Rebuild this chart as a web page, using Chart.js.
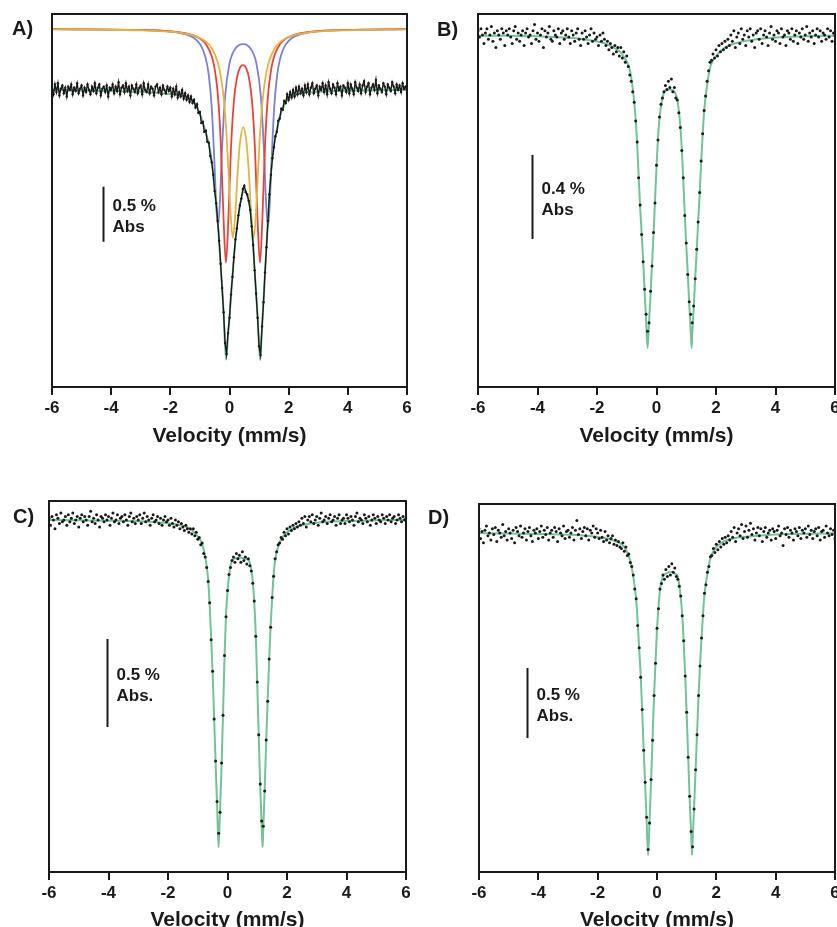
<!DOCTYPE html>
<html>
<head>
<meta charset="utf-8">
<script src="https://cdn.jsdelivr.net/npm/chart.js@4.4.0/dist/chart.umd.min.js"></script>
<style>
  html, body { margin: 0; padding: 0; background: #fff; width: 837px; height: 927px; overflow: hidden; position: relative; }
  canvas { position: absolute; }
</style>
</head>
<body>
<canvas id="chartA" style="left:0;top:0" width="420" height="449"></canvas>
<canvas id="chartB" style="left:420px;top:0" width="430" height="449"></canvas>
<canvas id="chartC" style="left:0;top:460px" width="420" height="473"></canvas>
<canvas id="chartD" style="left:420px;top:460px" width="430" height="473"></canvas>
<script>
// channel grid of the folded spectra (mm/s)
const CH_START = -6, CH_STEP = 0.05;
const xTicks = [-6, -4, -2, 0, 2, 4, 6];

// ---- panel A : measured spectrum (% absorption, baseline 0) ----
const dataA = [
  0.03,-0.04,0.05,-0.02,0.06,-0.05,0.01,0.04,-0.03,0.02,
  -0.06,0.03,0.00,0.05,-0.04,0.02,-0.01,0.06,-0.03,0.01,
  0.04,-0.05,0.02,-0.02,0.05,0.00,-0.04,0.03,-0.01,0.06,
  -0.03,0.02,0.05,-0.05,0.01,0.03,-0.02,0.04,-0.06,0.02,
  0.00,0.05,-0.03,0.03,-0.01,0.07,-0.04,0.02,0.04,-0.02,
  0.06,-0.01,0.03,-0.05,0.04,0.01,-0.02,0.05,-0.03,0.02,
  0.04,-0.04,0.06,0.00,-0.02,0.05,-0.03,0.03,0.01,-0.05,
  0.03,0.05,-0.02,0.02,-0.04,0.04,0.00,-0.03,0.03,-0.01,
  0.02,-0.06,0.01,-0.04,0.03,-0.07,-0.02,-0.06,0.00,-0.08,-0.03,-0.09,-0.05,-0.11,-0.06,-0.12,
  -0.09,-0.16,-0.13,-0.21,-0.20,
  -0.30,-0.29,-0.38,-0.37,-0.47,
  -0.48,-0.60,-0.66,-0.77,-0.92,
  -1.03,-1.19,-1.37,-1.58,-1.80,
  -2.02,-2.30,-2.40,-2.21,-2.07,
  -1.86,-1.70,-1.52,-1.36,-1.26,
  -1.14,-1.05,-0.99,-0.90,-0.87,
  -0.93,-0.95,-1.01,-1.09,-1.24,
  -1.41,-1.64,-1.85,-2.07,-2.33,
  -2.41,-2.15,-1.93,-1.66,-1.43,
  -1.19,-0.95,-0.77,-0.62,-0.52,
  -0.42,-0.38,-0.28,-0.26,-0.17,
  -0.18,-0.10,-0.12,-0.04,-0.09,
  -0.02,-0.07,0.00,-0.06,0.02,
  -0.04,0.03,-0.03,
  0.01,-0.05,0.04,-0.02,0.05,-0.04,0.02,0.06,-0.03,0.01,
  0.04,-0.05,0.03,0.00,0.06,-0.02,0.04,-0.04,0.07,0.01,
  -0.03,0.05,0.02,-0.04,0.06,0.00,0.03,-0.05,0.04,0.02,
  -0.02,0.06,-0.03,0.05,0.01,-0.04,0.07,0.02,-0.01,0.05,
  -0.03,0.04,0.08,-0.02,0.03,0.06,-0.04,0.02,0.05,0.00,
  0.09,-0.03,0.04,0.01,-0.02,0.06,0.03,-0.04,0.05,0.02,
  -0.01,0.07,0.03,-0.03,0.05,0.00,0.04,-0.02,0.06,0.01,0.03,-0.02
];
// total fit of panel A
const fitVelA = [-6,-5,-4,-3,-2.5,-2,-1.8,-1.6,-1.4,-1.2,-1.0,-0.9,-0.8,-0.7,-0.6,-0.5,-0.4,-0.3,-0.2,-0.12,
  -0.05,0,0.1,0.2,0.3,0.4,0.52,0.6,0.7,0.8,0.9,0.95,1.03,1.1,1.2,1.3,1.4,1.5,1.6,1.7,1.8,2.0,2.2,2.5,3,4,5,6];
const fitA = [0,-0.005,-0.01,-0.017,-0.025,-0.037,-0.044,-0.054,-0.069,-0.11,-0.22,-0.30,-0.39,-0.49,-0.64,-0.91,-1.18,-1.59,-2.01,-2.45,
  -2.23,-2.06,-1.69,-1.37,-1.15,-0.98,-0.91,-0.96,-1.08,-1.42,-1.86,-2.06,-2.45,-2.16,-1.67,-1.18,-0.76,-0.51,-0.37,-0.245,
  -0.17,-0.074,-0.049,-0.029,-0.017,-0.007,-0.002,0];
// the three doublet components of panel A (drawn offset above the data)
const blueVel = [-6,-3,-2,-1.5,-1.2,-1.0,-0.9,-0.8,-0.7,-0.6,-0.5,-0.45,-0.39,-0.33,-0.25,-0.15,0,0.1,0.2,0.3,0.455,
  0.61,0.71,0.81,0.91,1.06,1.16,1.24,1.30,1.36,1.41,1.51,1.61,1.71,1.81,1.91,2.11,2.41,2.91,3.91,6];
const blueA = [0.552,0.545,0.531,0.507,0.472,0.418,0.365,0.283,0.135,-0.162,-0.715,-1.04,-1.245,-1.047,-0.527,-0.063,0.24,0.329,0.377,0.404,0.416,
  0.404,0.377,0.329,0.24,-0.063,-0.527,-1.047,-1.245,-1.04,-0.715,-0.162,0.135,0.283,0.365,0.418,0.472,0.507,0.531,0.545,0.552];
const redVel = [-6,-3,-2,-1.5,-1.2,-1.0,-0.8,-0.6,-0.5,-0.4,-0.3,-0.2,-0.12,-0.04,0.05,0.15,0.25,0.35,0.455,
  0.56,0.66,0.76,0.86,0.95,1.03,1.11,1.21,1.31,1.41,1.51,1.71,1.91,2.11,2.41,2.91,3.91,6];
const redA = [0.552,0.544,0.532,0.515,0.494,0.468,0.418,0.306,0.189,-0.025,-0.447,-1.178,-1.57,-1.19,-0.533,-0.098,0.108,0.2,0.226,
  0.2,0.108,-0.098,-0.533,-1.19,-1.57,-1.178,-0.447,-0.025,0.189,0.306,0.418,0.468,0.494,0.515,0.532,0.544,0.552];
const yellowVel = [-6,-3,-2,-1.5,-1.2,-1.0,-0.8,-0.6,-0.4,-0.3,-0.2,-0.1,-0.03,0.03,0.11,0.19,0.27,0.35,0.465,
  0.58,0.66,0.74,0.82,0.90,0.96,1.03,1.13,1.23,1.33,1.53,1.73,1.93,2.13,2.43,2.93,3.93,6];
const yellowA = [0.551,0.542,0.529,0.512,0.493,0.472,0.439,0.379,0.254,0.135,-0.062,-0.404,-0.757,-1.095,-1.345,-1.153,-0.773,-0.49,-0.34,
  -0.49,-0.773,-1.153,-1.345,-1.095,-0.757,-0.404,-0.062,0.135,0.254,0.379,0.439,0.472,0.493,0.512,0.529,0.542,0.551];

// ---- fit grid shared by panels B, C, D ----
const fitVel = [-6,-5,-4,-3,-2.5,-2,-1.8,-1.6,-1.4,-1.2,-1.1,-1.0,-0.9,-0.8,-0.7,-0.65,-0.6,-0.55,-0.5,-0.45,
  -0.4,-0.35,-0.3,-0.25,-0.2,-0.15,-0.1,-0.05,0,0.05,0.1,0.2,0.3,0.44,0.6,0.7,0.75,0.8,0.85,0.9,
  0.95,1.0,1.05,1.1,1.15,1.18,1.2,1.25,1.3,1.35,1.4,1.45,1.5,1.55,1.6,1.7,1.8,1.9,2.0,2.2,2.4,2.6,3,4,5,6];

// ---- panel B ----
const dataB = [
  0.02,-0.01,0.03,0.00,-0.04,0.01,0.03,-0.02,0.00,0.04,
  -0.03,0.01,-0.06,0.02,0.00,-0.02,0.03,0.01,-0.05,0.02,
  0.00,0.03,-0.01,-0.04,0.02,0.04,-0.02,0.01,-0.03,0.00,
  0.02,-0.05,0.01,0.03,-0.01,0.00,-0.04,0.02,0.05,-0.02,
  0.01,-0.03,0.00,0.03,-0.06,0.02,-0.01,0.01,0.04,-0.02,
  -0.03,0.02,0.00,-0.01,0.03,-0.04,0.01,0.02,-0.02,0.00,
  0.03,-0.01,-0.04,0.02,0.00,-0.03,0.01,0.03,-0.02,-0.05,
  0.01,-0.02,0.02,-0.01,-0.04,0.00,0.03,-0.03,0.01,-0.02,
  -0.01,-0.05,0.00,-0.03,0.01,-0.02,-0.05,-0.03,-0.07,-0.04,-0.06,-0.09,-0.05,-0.08,-0.06,-0.10,
  -0.06,-0.11,-0.08,-0.13,-0.10,
  -0.15,-0.19,-0.22,-0.27,-0.32,
  -0.41,-0.51,-0.68,-0.81,-0.95,
  -1.08,-1.21,-1.33,-1.41,-1.37,
  -1.22,-1.10,-0.94,-0.80,-0.62,
  -0.50,-0.39,-0.33,-0.30,-0.27,
  -0.24,-0.26,-0.22,-0.25,-0.21,
  -0.27,-0.25,-0.30,-0.31,-0.37,
  -0.44,-0.55,-0.68,-0.86,-0.99,
  -1.14,-1.27,-1.33,-1.37,-1.29,
  -1.16,-1.02,-0.89,-0.75,-0.60,
  -0.47,-0.36,-0.29,-0.22,-0.17,
  -0.13,-0.12,-0.09,-0.11,-0.07,
  -0.10,-0.05,-0.08,-0.04,-0.07,
  -0.03,-0.06,-0.02,
  -0.05,0.00,-0.03,0.02,-0.06,-0.01,0.01,-0.04,0.03,-0.02,
  0.00,-0.05,0.02,-0.01,0.03,-0.03,0.00,-0.06,0.01,0.02,
  -0.02,0.03,-0.04,0.00,0.02,-0.01,-0.05,0.01,0.04,-0.02,
  0.00,-0.03,0.02,0.01,-0.04,0.03,-0.01,0.00,-0.05,0.02,
  0.01,-0.02,0.03,-0.03,0.00,0.02,-0.04,0.01,-0.01,0.03,
  -0.02,0.00,0.04,-0.03,0.01,-0.01,0.02,-0.04,0.00,0.03,
  -0.01,0.02,-0.03,0.01,0.00,-0.02,0.03,-0.01,0.02,-0.03,0.01,0.00
];
const fitB = [-0.003,-0.003,-0.006,-0.013,-0.019,-0.031,-0.037,-0.048,-0.063,-0.083,
  -0.104,-0.127,-0.164,-0.253,-0.40,-0.52,-0.67,-0.82,-0.94,-1.07,
  -1.22,-1.36,-1.49,-1.36,-1.24,-1.09,-0.95,-0.79,-0.63,-0.49,
  -0.40,-0.30,-0.265,-0.26,-0.27,-0.31,-0.36,-0.43,-0.54,-0.69,
  -0.85,-1.00,-1.13,-1.28,-1.41,-1.49,-1.43,-1.30,-1.16,-1.03,
  -0.89,-0.76,-0.61,-0.48,-0.365,-0.24,-0.156,-0.122,-0.10,-0.07,
  -0.052,-0.042,-0.028,-0.012,-0.006,-0.003];

// ---- panel C ----
const dataC = [
  0.01,-0.03,0.02,0.00,-0.05,0.03,0.01,-0.02,0.04,-0.01,
  0.00,0.02,-0.03,0.03,-0.01,0.01,0.04,-0.02,0.00,0.02,
  -0.04,0.01,0.03,-0.01,0.02,0.00,-0.03,0.02,0.05,-0.01,
  0.01,-0.02,0.03,0.00,-0.04,0.02,0.01,-0.01,0.03,0.00,
  0.02,-0.03,0.01,0.04,-0.01,0.00,0.03,-0.02,0.01,0.02,
  -0.01,0.03,0.00,-0.03,0.02,0.04,-0.01,0.01,-0.02,0.02,
  0.00,0.03,-0.02,0.01,0.04,-0.01,0.02,0.00,-0.03,0.01,
  0.03,-0.01,0.00,0.02,-0.02,0.01,-0.03,0.00,0.02,-0.01,
  0.00,-0.03,0.01,-0.02,-0.04,0.00,-0.03,-0.01,-0.05,-0.02,-0.04,-0.06,-0.03,-0.05,-0.07,-0.05,
  -0.08,-0.05,-0.09,-0.07,-0.11,
  -0.10,-0.14,-0.13,-0.19,-0.21,
  -0.27,-0.35,-0.47,-0.68,-0.86,
  -1.13,-1.37,-1.60,-1.78,-1.66,
  -1.38,-1.11,-0.77,-0.55,-0.40,
  -0.31,-0.27,-0.23,-0.21,-0.24,
  -0.19,-0.22,-0.20,-0.24,-0.18,
  -0.23,-0.21,-0.25,-0.22,-0.26,
  -0.29,-0.36,-0.46,-0.66,-0.92,
  -1.22,-1.50,-1.71,-1.74,-1.54,
  -1.25,-1.03,-0.79,-0.61,-0.44,
  -0.32,-0.22,-0.18,-0.14,-0.13,
  -0.10,-0.11,-0.07,-0.09,-0.05,
  -0.08,-0.04,-0.06,-0.03,-0.05,
  -0.02,-0.04,-0.01,
  -0.03,0.01,-0.02,0.02,-0.04,0.00,0.02,-0.01,0.03,-0.02,
  0.00,0.02,-0.03,0.01,0.04,-0.01,0.00,0.02,-0.02,0.01,
  0.03,-0.01,0.00,0.02,-0.03,0.01,0.03,-0.02,0.00,0.01,
  -0.02,0.03,0.01,-0.01,0.02,0.00,-0.03,0.02,0.04,-0.01,
  0.01,0.00,-0.02,0.03,0.01,-0.01,0.02,-0.03,0.00,0.03,
  0.01,-0.02,0.02,0.00,-0.01,0.03,0.01,-0.02,0.02,0.00,
  0.03,-0.01,0.01,0.02,-0.02,0.00,0.03,0.01,-0.01,0.02,0.00,0.01
];
const fitC = [0,-0.002,-0.004,-0.007,-0.011,-0.019,-0.022,-0.028,-0.037,-0.058,
  -0.073,-0.093,-0.117,-0.167,-0.26,-0.34,-0.48,-0.67,-0.87,-1.12,
  -1.38,-1.62,-1.86,-1.64,-1.40,-1.10,-0.78,-0.54,-0.41,-0.32,
  -0.26,-0.223,-0.216,-0.214,-0.218,-0.227,-0.242,-0.28,-0.35,-0.47,
  -0.65,-0.93,-1.23,-1.51,-1.75,-1.86,-1.77,-1.53,-1.26,-1.02,
  -0.80,-0.60,-0.45,-0.31,-0.23,-0.154,-0.112,-0.087,-0.069,-0.047,
  -0.033,-0.026,-0.015,-0.006,-0.002,0];

// ---- panel D ----
const dataD = [
  0.03,-0.04,0.01,-0.07,0.02,0.05,-0.02,0.00,-0.05,0.03,
  -0.01,0.04,-0.06,0.02,0.00,-0.03,0.06,-0.02,0.01,-0.05,
  0.03,0.00,-0.04,0.02,-0.07,0.04,0.01,-0.02,0.05,-0.03,
  0.00,0.03,-0.05,0.01,0.04,-0.02,-0.06,0.02,0.00,0.03,
  -0.04,0.01,0.05,-0.03,0.02,-0.01,0.04,-0.05,0.00,0.02,
  -0.03,0.04,0.01,-0.06,0.03,0.00,-0.02,0.05,-0.04,0.01,
  0.02,-0.03,0.00,0.04,-0.05,0.02,0.09,-0.01,0.03,-0.04,
  0.01,0.04,-0.02,0.03,-0.05,0.02,0.00,0.05,-0.03,0.03,
  0.00,-0.04,0.02,-0.03,-0.06,0.01,-0.05,-0.02,-0.07,-0.04,-0.02,-0.08,-0.05,-0.09,-0.06,-0.10,
  -0.11,-0.07,-0.13,-0.10,-0.16,
  -0.15,-0.21,-0.24,-0.30,-0.40,
  -0.47,-0.66,-0.82,-1.03,-1.26,
  -1.55,-1.78,-2.03,-2.26,-2.07,
  -1.76,-1.48,-1.16,-0.93,-0.68,
  -0.54,-0.40,-0.36,-0.30,-0.33,
  -0.26,-0.31,-0.24,-0.30,-0.22,
  -0.28,-0.25,-0.31,-0.33,-0.38,
  -0.45,-0.59,-0.77,-1.02,-1.28,
  -1.60,-1.88,-2.13,-2.24,-1.97,
  -1.69,-1.44,-1.16,-0.95,-0.75,
  -0.59,-0.43,-0.37,-0.28,-0.24,
  -0.17,-0.16,-0.11,-0.14,-0.08,
  -0.12,-0.06,-0.10,-0.04,-0.08,
  -0.03,-0.07,-0.02,
  -0.05,0.01,-0.03,0.04,-0.06,0.00,0.03,-0.02,0.06,-0.04,
  0.01,0.05,-0.03,0.02,0.07,-0.01,0.03,-0.05,0.00,0.04,
  -0.02,0.03,-0.06,0.01,0.04,-0.03,0.00,0.02,-0.05,0.03,
  0.01,-0.04,0.02,0.05,-0.02,0.00,-0.09,0.03,-0.01,0.04,
  -0.03,0.02,0.00,-0.05,0.03,0.01,-0.02,0.04,-0.04,0.02,
  0.00,0.03,-0.03,0.05,-0.01,0.02,-0.04,0.01,0.03,-0.02,
  0.04,-0.05,0.01,0.02,-0.03,0.05,0.00,-0.02,0.03,-0.01,0.02,-0.04
];
const fitD = [-0.002,-0.004,-0.007,-0.012,-0.018,-0.028,-0.035,-0.044,-0.058,-0.08,
  -0.10,-0.14,-0.20,-0.31,-0.48,-0.64,-0.83,-1.01,-1.27,-1.54,
  -1.79,-2.05,-2.30,-2.05,-1.77,-1.47,-1.17,-0.92,-0.69,-0.53,
  -0.41,-0.31,-0.29,-0.276,-0.29,-0.31,-0.37,-0.46,-0.58,-0.78,
  -1.01,-1.29,-1.59,-1.89,-2.14,-2.30,-2.21,-1.96,-1.70,-1.43,
  -1.17,-0.94,-0.76,-0.58,-0.44,-0.29,-0.18,-0.13,-0.10,-0.067,
  -0.048,-0.037,-0.027,-0.011,-0.005,-0.002];

const INK = '#1a1a1a';
const FIT_GREEN = '#74c298';
const FONT = '"Liberation Sans", Arial, Helvetica, sans-serif';
Chart.defaults.font.family = FONT;
Chart.defaults.color = INK;

const channels = function (values) {
  return values.map(function (y, i) {
    return { x: Math.round((CH_START + i * CH_STEP) * 1000) / 1000, y: y };
  });
}

const pairs = function (xs, ys) {
  return xs.map(function (x, i) { return { x: x, y: ys[i] }; });
}

const dotSet = function (values) {
  return { data: channels(values), showLine: false, pointRadius: 1.5, pointBorderWidth: 0,
    pointBackgroundColor: INK, borderColor: INK };
}

const curveSet = function (xs, ys, color, width) {
  return { data: pairs(xs, ys), borderColor: color, borderWidth: width, pointRadius: 0,
    cubicInterpolationMode: 'monotone', fill: false };
}

// frame, scale bar and panel letter
const decorPlugin = {
  id: 'decor',
  afterDraw: function (chart, args, o) {
    const ctx = chart.ctx, a = chart.chartArea, sx = chart.scales.x, sy = chart.scales.y;
    ctx.save();
    ctx.strokeStyle = INK;
    ctx.lineWidth = 2;
    ctx.strokeRect(a.left, a.top, a.right - a.left, a.bottom - a.top);

    const bx = Math.round(sx.getPixelForValue(o.barAt)) + 0.5;
    const y1 = sy.getPixelForValue(o.barTop);
    const y2 = sy.getPixelForValue(o.barTop - o.barSize);
    ctx.beginPath();
    ctx.moveTo(bx, y1);
    ctx.lineTo(bx, y2);
    ctx.stroke();

    ctx.fillStyle = INK;
    ctx.textBaseline = 'middle';
    ctx.textAlign = 'left';
    ctx.font = 'bold 17px ' + FONT;
    const mid = (y1 + y2) / 2;
    ctx.fillText(o.barText[0], bx + 9, mid - 8);
    ctx.fillText(o.barText[1], bx + 9, mid + 13);

    ctx.font = 'bold 20px ' + FONT;
    ctx.fillText(o.letter, o.letterX, o.letterY);
    ctx.restore();
  }
};

const doPanel = function (id, p) {
  return new Chart(document.getElementById(id), {
    type: 'line',
    data: { datasets: p.datasets },
    plugins: [decorPlugin],
    options: {
      responsive: false,
      animation: false,
      devicePixelRatio: 1,
      layout: { padding: p.padding },
      plugins: { legend: { display: false }, tooltip: { enabled: false }, decor: p.decor },
      scales: {
        x: {
          type: 'linear', min: -6, max: 6,
          afterBuildTicks: function (s) { s.ticks = xTicks.map(function (v) { return { value: v }; }); },
          afterFit: function (s) { s.height = p.axisHeight; },
          grid: { display: true, drawOnChartArea: false, drawTicks: true, tickLength: 8, color: INK, lineWidth: 2 },
          border: { display: true, color: INK, width: 2 },
          ticks: { padding: 3, color: INK, font: { size: 17, weight: 'bold' }, maxRotation: 0, autoSkip: false,
            callback: function (v) { return String(v); } },
          title: { display: true, text: 'Velocity (mm/s)', color: INK, padding: 0,
            font: { size: 21, weight: 'bold', lineHeight: 1.2 } }
        },
        y: { display: false, min: p.yMin, max: p.yMax }
      }
    }
  });
}

doPanel('chartA', {
  padding: { left: 52, right: 13, top: 14, bottom: 0 }, axisHeight: 62, yMin: -2.70, yMax: 0.69,
  decor: { barAt: -4.28, barTop: -0.88, barSize: 0.5, barText: ['0.5 %', 'Abs'], letter: 'A)', letterX: 12, letterY: 29 },
  datasets: [
    Object.assign(dotSet(dataA), { showLine: true, borderWidth: 1.4, pointRadius: 1.2 }),
    curveSet(fitVelA, fitA, FIT_GREEN, 2),
    curveSet(yellowVel, yellowA, '#e2b443', 1.8),
    curveSet(redVel, redA, '#e5443b', 1.8),
    curveSet(blueVel, blueA, '#7a80d2', 1.8)
  ]
});

doPanel('chartB', {
  padding: { left: 58, right: 15, top: 14, bottom: 0 }, axisHeight: 62, yMin: -1.676, yMax: 0.10,
  decor: { barAt: -4.18, barTop: -0.571, barSize: 0.4, barText: ['0.4 %', 'Abs'], letter: 'B)', letterX: 17, letterY: 30 },
  datasets: [dotSet(dataB), curveSet(fitVel, fitB, FIT_GREEN, 2)]
});

doPanel('chartC', {
  padding: { left: 49, right: 14, top: 41, bottom: 0 }, axisHeight: 61, yMin: -2.0, yMax: 0.108,
  decor: { barAt: -4.05, barTop: -0.676, barSize: 0.5, barText: ['0.5 %', 'Abs.'], letter: 'C)', letterX: 13, letterY: 57 },
  datasets: [dotSet(dataC), curveSet(fitVel, fitC, FIT_GREEN, 2)]
});

doPanel('chartD', {
  padding: { left: 59, right: 15, top: 44, bottom: 0 }, axisHeight: 61, yMin: -2.42, yMax: 0.207,
  decor: { barAt: -4.38, barTop: -0.964, barSize: 0.5, barText: ['0.5 %', 'Abs.'], letter: 'D)', letterX: 8, letterY: 58 },
  datasets: [dotSet(dataD), curveSet(fitVel, fitD, FIT_GREEN, 2)]
});
</script>
</body>
</html>
